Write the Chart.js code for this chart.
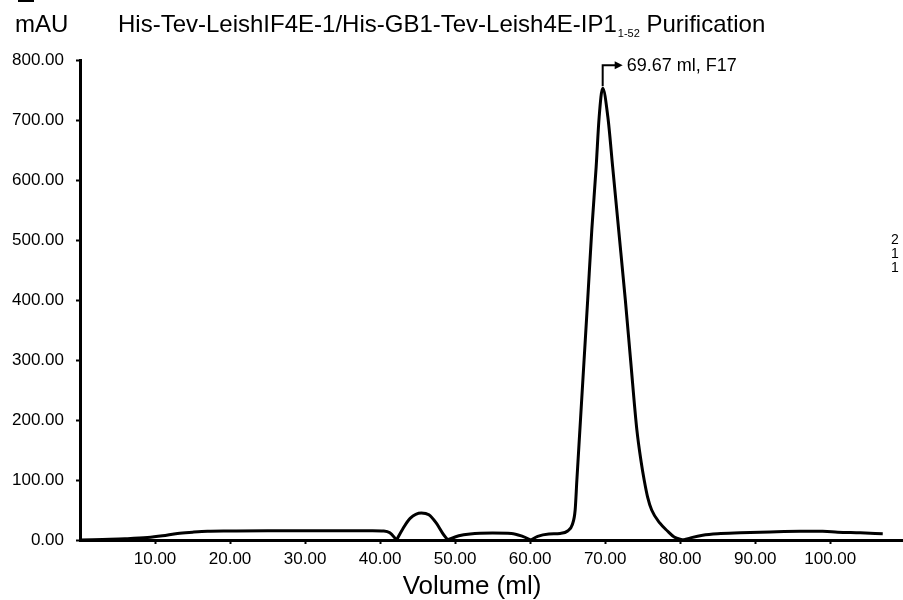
<!DOCTYPE html>
<html><head><meta charset="utf-8">
<script src="https://cdn.jsdelivr.net/npm/chart.js@4/dist/chart.umd.min.js"></script>
<style>html,body{margin:0;padding:0;background:#fff;}#wrap{width:903px;height:600px;position:relative;}</style>
</head><body><div id="wrap"><canvas id="c" width="903" height="600"></canvas></div>
<script>
// ---- data ----
const volumeMl = [0, 3, 6, 9, 11, 13, 15, 17, 20, 25, 30, 35, 39, 40.5, 41.3, 42.2,
  43.0, 44.0, 45.5, 46.5, 47.5, 48.3, 49.0,
  50.5, 52, 55, 57.5, 59, 60.1,
  61, 62.5, 64.0, 65.0, 65.6, 66.0, 66.23, 66.71, 67.19, 67.67, 68.22, 68.8, 69.2, 69.67,
  70.36, 71.0, 71.8, 72.69, 73.39, 74.23, 74.8, 75.2, 75.65, 76.2, 77.3, 78.3, 79.2, 80.4,
  81.5, 83, 85, 88, 92, 96, 99, 101, 104, 107];
const absorbanceMAU = [0, 1, 2, 4, 7, 11, 13, 14.5, 15, 15.5, 15.5, 15.5, 15.5, 15, 12, 0,
  18, 36, 45, 42, 28, 12, 0,
  7, 10, 11.5, 11, 6, 0,
  6, 10, 11, 15, 25, 50, 100, 200, 300, 400, 517, 622, 705, 753,
  705, 622, 517, 400, 300, 183, 130, 100, 72, 50, 28, 15, 5, 0,
  4, 8, 10.5, 12, 13.5, 14.5, 14.5, 13, 12, 10.5];
const yTickValues = [0, 100, 200, 300, 400, 500, 600, 700, 800];
const xTickValues = [10, 20, 30, 40, 50, 60, 70, 80, 90, 100];
const xRange = [0, 109.7];
const yRange = [0, 800];
const peakVolume = 69.67;
const peakLabel = '69.67 ml, F17';
const yUnitLabel = 'mAU';
const titleMain = 'His-Tev-LeishIF4E-1/His-GB1-Tev-Leish4E-IP1';
const titleSub = '1-52';
const titleEnd = ' Purification';
const xTitle = 'Volume (ml)';
const edgeLabels = ['2', '1', '1'];

const FONT = '"Liberation Sans", Arial, Helvetica, sans-serif';

// split the trace into pieces at the zero cusps so they stay sharp
const points = volumeMl.map((v, i) => ({x: v, y: absorbanceMAU[i]}));
const pieces = [];
let cur = [];
points.forEach((p, i) => {
  cur.push(p);
  if (p.y === 0 && i > 0 && i < points.length - 1) { pieces.push(cur); cur = [p]; }
});
if (cur.length) pieces.push(cur);
const datasets = pieces.map(d => ({
  data: d, borderColor: '#000', borderWidth: 3, pointRadius: 0,
  cubicInterpolationMode: 'monotone', fill: false
}));

const peakIndex = volumeMl.indexOf(peakVolume);
const peakValue = absorbanceMAU[peakIndex];

const overlay = {
  id: 'overlay',
  afterDraw(chart) {
    const ctx = chart.ctx;
    const xs = chart.scales.x, ys = chart.scales.y;
    ctx.save();
    ctx.fillStyle = '#000';
    ctx.strokeStyle = '#000';
    // fragment at top left
    ctx.fillRect(18, 0, 16, 2);
    // unit and title
    ctx.textBaseline = 'alphabetic';
    ctx.textAlign = 'left';
    ctx.font = '24px ' + FONT;
    ctx.fillText(yUnitLabel, 15, 32);
    let tx = 118;
    ctx.fillText(titleMain, tx, 32);
    tx += ctx.measureText(titleMain).width;
    ctx.font = '11px ' + FONT;
    ctx.fillText(titleSub, tx + 1, 37);
    tx += ctx.measureText(titleSub).width + 1;
    ctx.font = '24px ' + FONT;
    ctx.fillText(titleEnd, tx, 32);
    // x axis title
    ctx.font = '26px ' + FONT;
    ctx.textAlign = 'center';
    ctx.fillText(xTitle, 472, 594);
    ctx.textAlign = 'left';
    // peak annotation
    const px = xs.getPixelForValue(peakVolume);
    const py = ys.getPixelForValue(peakValue);
    const cy = py - 23;
    ctx.lineWidth = 2;
    ctx.beginPath();
    ctx.moveTo(px, py - 2);
    ctx.lineTo(px, cy);
    ctx.lineTo(px + 14, cy);
    ctx.stroke();
    ctx.beginPath();
    ctx.moveTo(px + 20, cy);
    ctx.lineTo(px + 12, cy - 4);
    ctx.lineTo(px + 12, cy + 4);
    ctx.closePath();
    ctx.fill();
    ctx.font = '18px ' + FONT;
    ctx.textBaseline = 'middle';
    ctx.fillText(peakLabel, px + 24, cy + 1);
    // clipped labels at right edge
    ctx.font = '14px ' + FONT;
    ctx.textBaseline = 'alphabetic';
    edgeLabels.forEach((t, i) => ctx.fillText(t, 891, 244 + i * 14));
    ctx.restore();
  }
};

new Chart(document.getElementById('c'), {
  type: 'line',
  data: {datasets},
  options: {
    responsive: false, animation: false, devicePixelRatio: 1,
    layout: {padding: {top: 60, left: 0, right: 0, bottom: 0}},
    plugins: {legend: {display: false}, tooltip: {enabled: false}, title: {display: false}},
    scales: {
      x: {
        type: 'linear', min: xRange[0], max: xRange[1],
        afterBuildTicks: s => { s.ticks = xTickValues.map(v => ({value: v})); },
        afterFit: s => { s.height = 60; },
        ticks: {callback: v => Number(v).toFixed(2), color: '#000', font: {family: FONT, size: 17}, padding: 5, maxRotation: 0, autoSkip: false},
        grid: {display: true, drawOnChartArea: false, drawTicks: true, tickLength: 4, tickWidth: 2, tickColor: '#000'},
        border: {display: true, color: '#000', width: 3},
        title: {display: false}
      },
      y: {
        type: 'linear', min: yRange[0], max: yRange[1],
        afterBuildTicks: s => { s.ticks = yTickValues.map(v => ({value: v})); },
        afterFit: s => { s.width = 80; },
        ticks: {callback: v => Number(v).toFixed(2), color: '#000', font: {family: FONT, size: 17}, padding: 12, autoSkip: false},
        grid: {display: true, drawOnChartArea: false, drawTicks: true, tickLength: 4, tickWidth: 2, tickColor: '#000'},
        border: {display: true, color: '#000', width: 3}
      }
    }
  },
  plugins: [overlay]
});
</script></body></html>
